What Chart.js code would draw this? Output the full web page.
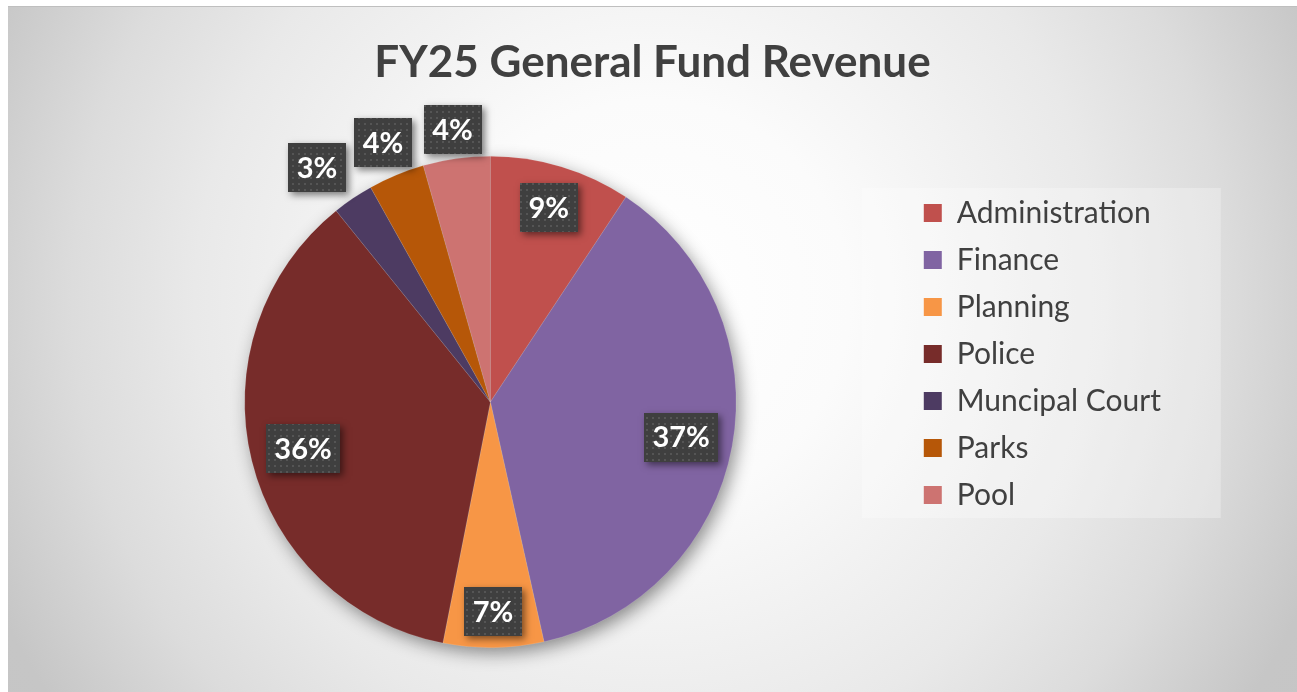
<!DOCTYPE html>
<html>
<head>
<meta charset="utf-8">
<script src="https://cdn.jsdelivr.net/npm/chart.js@4.4.1/dist/chart.umd.min.js"></script>
<style>
  html, body { margin: 0; padding: 0; background: #ffffff; }
  #frame {
    position: absolute; left: 8px; top: 6px; width: 1289px; height: 685px;
    border-top: 1px solid #bfbfbf;
    background: radial-gradient(circle at 642px 293px, #ffffff 0px, #fbfbfb 200px, #e9e9e9 455px, #dcdcdc 578px, #c6c6c6 720px, #c4c4c4 900px);
  }
  #frame canvas { display: block; }
</style>
</head>
<body>
<div id="frame"><canvas id="pie-chart"></canvas></div>
<script>
const chartTitle = "FY25 General Fund Revenue";
const categories = ["Administration", "Finance", "Planning", "Police", "Muncipal Court", "Parks", "Pool"];
const revenueShare = [9.3, 37.2, 6.6, 36.1, 2.7, 3.7, 4.4];
const sliceColors = ["#c0504d", "#8064a2", "#f79646", "#772c2a", "#4d3b62", "#b65708", "#cd7371"];

// title spans the whole canvas, not only the padded area
const wideTitle = {
    id: "wideTitle",
    afterLayout(chart) {
        const tb = chart.titleBlock;
        if (!tb) return;
        tb.left = 0;
        tb.right = chart.width;
        tb.width = chart.width;
    }
};

// soft shadow under the pie, like the office style
const pieShadow = {
    id: "pieShadow",
    beforeDatasetsDraw(chart) {
        const arc = chart.getDatasetMeta(0).data[0];
        if (!arc) return;
        const ctx = chart.ctx;
        ctx.save();
        ctx.shadowColor = "rgba(0,0,0,0.45)";
        ctx.shadowBlur = 18;
        ctx.shadowOffsetX = 4;
        ctx.shadowOffsetY = 6;
        ctx.beginPath();
        ctx.arc(arc.x, arc.y, arc.outerRadius - 1, 0, Math.PI * 2);
        ctx.fillStyle = "#999";
        ctx.fill();
        ctx.restore();
    }
};

// light panel behind the legend
const legendPanel = {
    id: "legendPanel",
    beforeDraw(chart) {
        const lg = chart.legend;
        if (!lg || !lg.legendHitBoxes || !lg.legendHitBoxes.length) return;
        const boxes = lg.legendHitBoxes;
        const first = boxes[0], last = boxes[boxes.length - 1];
        const ctx = chart.ctx;
        const x0 = first.left - 62;
        const y0 = first.top - 10;
        const x1 = first.left + 297;
        const y1 = last.top + last.height + 8;
        ctx.save();
        ctx.fillStyle = "rgba(255,255,255,0.28)";
        ctx.fillRect(x0, y0, x1 - x0, y1 - y0);
        ctx.restore();
    }
};

let dotPattern = null;
function getDotPattern(ctx) {
    if (dotPattern) return dotPattern;
    const c = document.createElement("canvas");
    c.width = 6; c.height = 6;
    const p = c.getContext("2d");
    p.fillStyle = "#3f3f3f";
    p.fillRect(0, 0, 6, 6);
    p.fillStyle = "#555555";
    p.fillRect(2, 2, 2, 2);
    dotPattern = ctx.createPattern(c, "repeat");
    return dotPattern;
}

// percentage callouts
const pctLabels = {
    id: "pctLabels",
    afterDatasetsDraw(chart) {
        const ctx = chart.ctx;
        const meta = chart.getDatasetMeta(0);
        const values = chart.data.datasets[0].data;
        const total = values.reduce((a, b) => a + b, 0);
        ctx.save();
        ctx.font = "bold 29px Lato";
        const boxes = meta.data.map((arc, i) => {
            const pct = values[i] / total * 100;
            const text = Math.round(pct) + "%";
            const tw = ctx.measureText(text).width;
            const bw = Math.round(tw + 17), bh = 49;
            const mid = (arc.startAngle + arc.endAngle) / 2;
            const ux = Math.cos(mid), uy = Math.sin(mid);
            const extent = Math.abs(ux) * bw / 2 + Math.abs(uy) * bh / 2;
            const outside = pct < 5;
            const dist = outside ? arc.outerRadius + extent + 1 : arc.outerRadius - extent - 11;
            return { text, bw, bh, outside, cx: arc.x + ux * dist, cy: arc.y + uy * dist };
        });
        // outside callouts: keep a gap to the next one, nudging sideways
        const gap = 8;
        for (let i = boxes.length - 2; i >= 0; i--) {
            const a = boxes[i], b = boxes[i + 1];
            if (!a.outside || !b.outside) continue;
            const overlapX = (a.bw + b.bw) / 2 + gap - Math.abs(a.cx - b.cx);
            const overlapY = (a.bh + b.bh) / 2 - Math.abs(a.cy - b.cy);
            if (overlapX > 0 && overlapY > 0) {
                a.cx += (a.cx < b.cx ? -1 : 1) * overlapX;
            }
        }
        boxes.forEach(b => {
            const bx = Math.round(b.cx - b.bw / 2), by = Math.round(b.cy - b.bh / 2);
            ctx.save();
            ctx.shadowColor = "rgba(0,0,0,0.5)";
            ctx.shadowBlur = 7;
            ctx.shadowOffsetX = 3;
            ctx.shadowOffsetY = 3;
            ctx.fillStyle = "#3f3f3f";
            ctx.fillRect(bx, by, b.bw, b.bh);
            ctx.restore();
            ctx.fillStyle = getDotPattern(ctx);
            ctx.fillRect(bx, by, b.bw, b.bh);
            ctx.fillStyle = "#ffffff";
            ctx.textAlign = "center";
            ctx.textBaseline = "middle";
            ctx.fillText(b.text, b.cx, b.cy + 1);
        });
        ctx.restore();
    }
};

const baseLabels = Chart.overrides.pie.plugins.legend.labels.generateLabels;

new Chart(document.getElementById("pie-chart"), {
    type: "pie",
    data: {
        labels: categories,
        datasets: [
            {
                data: revenueShare,
                backgroundColor: sliceColors,
                borderColor: "rgba(255,255,255,0.25)",
                borderWidth: 0.5,
                hoverOffset: 0,
            },
        ],
    },
    options: {
        responsive: true,
        maintainAspectRatio: false,
        animation: false,
        events: [],
        layout: {
            padding: { top: 0, left: 66, right: 126, bottom: 44 },
        },
        plugins: {
            tooltip: { enabled: false },
            title: {
                display: true,
                text: chartTitle,
                color: "#404040",
                font: { family: "Lato", size: 44, weight: "bold" },
                padding: { top: 29.6, bottom: 66.6 },
            },
            legend: {
                display: true,
                position: "right",
                align: "start",
                fullSize: false,
                title: {
                    display: true,
                    text: " ",
                    font: { size: 10 },
                    padding: { top: 0, bottom: 13 },
                },
                labels: {
                    color: "#404040",
                    font: { family: "Lato", size: 30 },
                    boxWidth: 18,
                    boxHeight: 18,
                    padding: 17,
                    generateLabels: function (chart) {
                        return baseLabels(chart).map(item => {
                            item.lineWidth = 0;
                            item.strokeStyle = item.fillStyle;
                            return item;
                        });
                    },
                },
            },
        },
    },
    plugins: [wideTitle, pieShadow, legendPanel, pctLabels],
});
</script>
</body>
</html>
